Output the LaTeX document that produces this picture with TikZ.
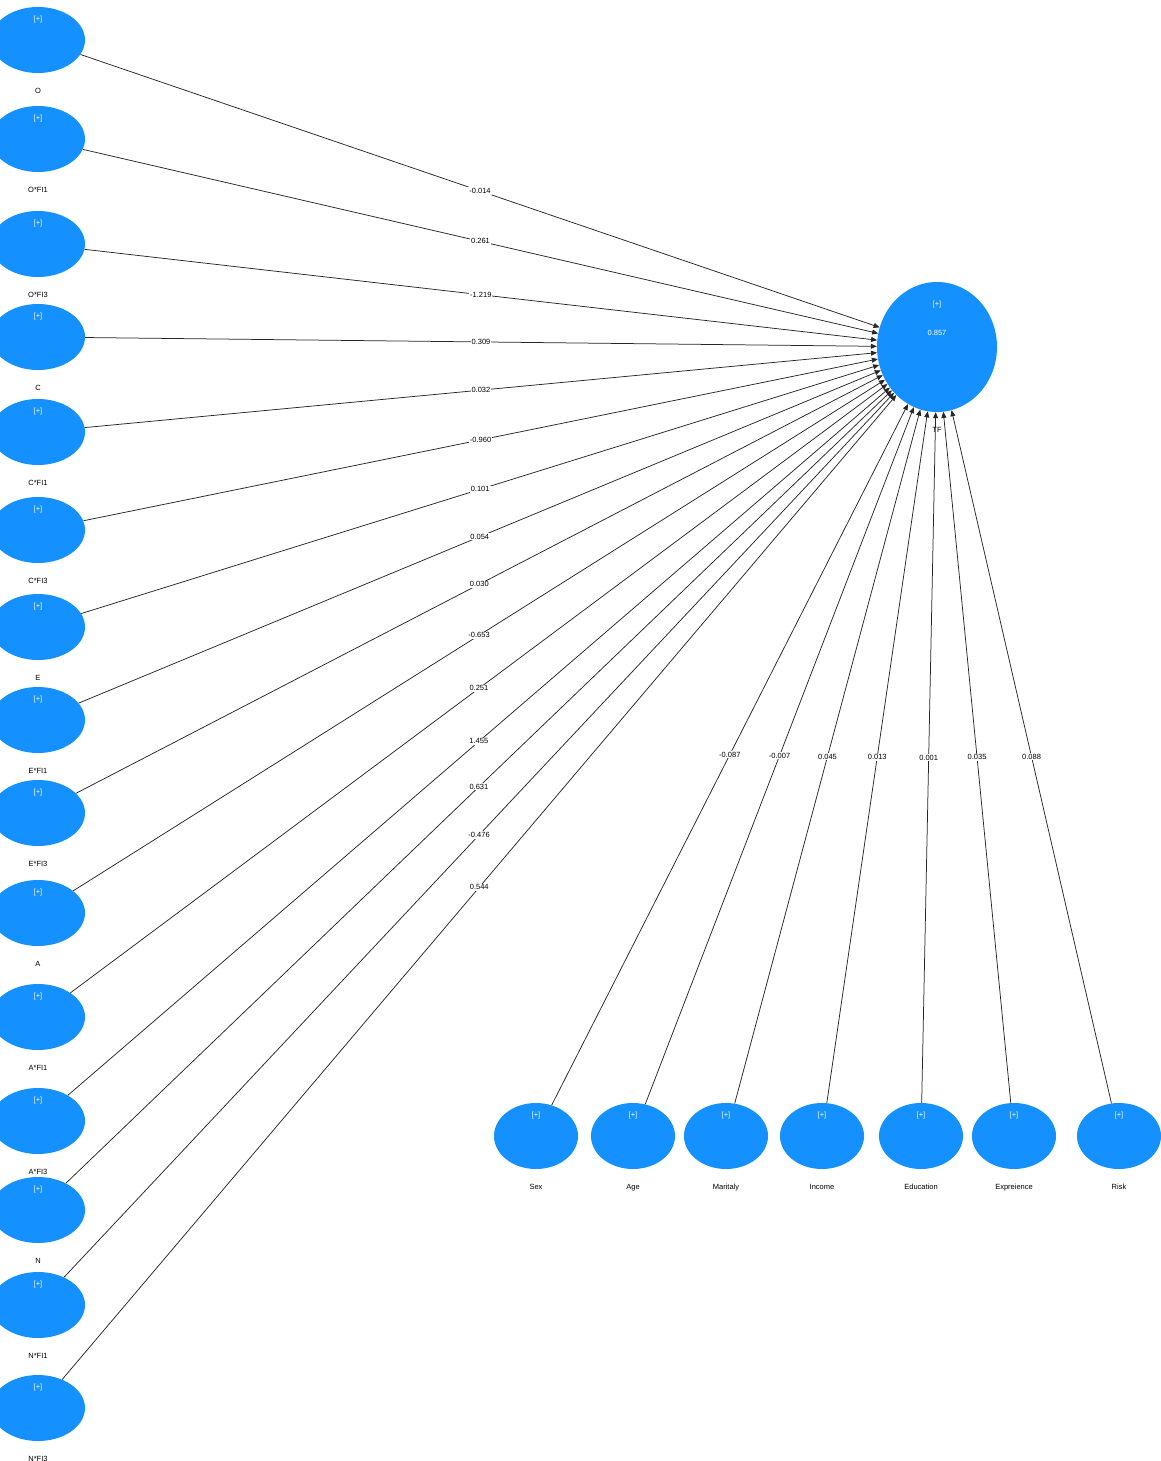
\documentclass[tikz,border=0pt]{standalone}
\usepackage{fontspec}
\setmainfont{Liberation Sans}
\usetikzlibrary{shapes.geometric, arrows.meta, positioning}
\definecolor{semblue}{RGB}{20,144,255}

\begin{document}
\begin{tikzpicture}[x=1pt, y=-1pt]
    \tikzstyle{latent} = [ellipse, fill=semblue, minimum width=94pt, minimum height=66pt, inner sep=0pt]
    \tikzstyle{ctrl} = [latent, minimum width=84pt]
    \tikzstyle{plus} = [text=white, font=\fontsize{7.5}{8}\selectfont, anchor=center, inner sep=0pt]
    \tikzstyle{nm} = [font=\fontsize{7.5}{8}\selectfont, inner sep=0pt, yshift=-15pt]
    \tikzstyle{conn} = [draw=black!85, line width=0.75pt, -{Triangle[length=6pt,width=5pt]}]
    \tikzstyle{coef} = [midway, fill=white, inner sep=1pt, font=\fontsize{7.5}{8}\selectfont]

    \useasboundingbox (0,0) rectangle (1161,1461);

    % target construct
    \node[latent, minimum width=120pt, minimum height=130pt,
          label={[plus, yshift=-23pt]north:{[+]}},
          label={[plus, yshift=14pt]center:{0.857}},
          label={[nm]below:TF}] (TF) at (937,347) {};

    % predictors
    \node[latent, label={[plus, yshift=-13pt]north:{[+]}}, label={[nm]below:O}] (O) at (38,40) {};
    \node[latent, label={[plus, yshift=-13pt]north:{[+]}}, label={[nm]below:O*FI1}] (OFI1) at (38,139) {};
    \node[latent, label={[plus, yshift=-13pt]north:{[+]}}, label={[nm]below:O*FI3}] (OFI3) at (38,244) {};
    \node[latent, label={[plus, yshift=-13pt]north:{[+]}}, label={[nm]below:C}] (C) at (38,337) {};
    \node[latent, label={[plus, yshift=-13pt]north:{[+]}}, label={[nm]below:C*FI1}] (CFI1) at (38,432) {};
    \node[latent, label={[plus, yshift=-13pt]north:{[+]}}, label={[nm]below:C*FI3}] (CFI3) at (38,530) {};
    \node[latent, label={[plus, yshift=-13pt]north:{[+]}}, label={[nm]below:E}] (E) at (38,627) {};
    \node[latent, label={[plus, yshift=-13pt]north:{[+]}}, label={[nm]below:E*FI1}] (EFI1) at (38,720) {};
    \node[latent, label={[plus, yshift=-13pt]north:{[+]}}, label={[nm]below:E*FI3}] (EFI3) at (38,813) {};
    \node[latent, label={[plus, yshift=-13pt]north:{[+]}}, label={[nm]below:A}] (A) at (38,913) {};
    \node[latent, label={[plus, yshift=-13pt]north:{[+]}}, label={[nm]below:A*FI1}] (AFI1) at (38,1017) {};
    \node[latent, label={[plus, yshift=-13pt]north:{[+]}}, label={[nm]below:A*FI3}] (AFI3) at (38,1121) {};
    \node[latent, label={[plus, yshift=-13pt]north:{[+]}}, label={[nm]below:N}] (N) at (38,1210) {};
    \node[latent, label={[plus, yshift=-13pt]north:{[+]}}, label={[nm]below:N*FI1}] (NFI1) at (38,1305) {};
    \node[latent, label={[plus, yshift=-13pt]north:{[+]}}, label={[nm]below:N*FI3}] (NFI3) at (38,1408) {};

    % controls
    \node[ctrl, label={[plus, yshift=-13pt]north:{[+]}}, label={[nm]below:Sex}] (Sex) at (536,1136) {};
    \node[ctrl, label={[plus, yshift=-13pt]north:{[+]}}, label={[nm]below:Age}] (Age) at (633,1136) {};
    \node[ctrl, label={[plus, yshift=-13pt]north:{[+]}}, label={[nm]below:Maritaly}] (Maritaly) at (726,1136) {};
    \node[ctrl, label={[plus, yshift=-13pt]north:{[+]}}, label={[nm]below:Income}] (Income) at (822,1136) {};
    \node[ctrl, label={[plus, yshift=-13pt]north:{[+]}}, label={[nm]below:Education}] (Education) at (921,1136) {};
    \node[ctrl, label={[plus, yshift=-13pt]north:{[+]}}, label={[nm]below:Expreience}] (Expreience) at (1014,1136) {};
    \node[ctrl, label={[plus, yshift=-13pt]north:{[+]}}, label={[nm]below:Risk}] (Risk) at (1119,1136) {};

    % paths
    \draw[conn] (O) -- node[coef] {-0.014} (TF);
    \draw[conn] (OFI1) -- node[coef] {0.261} (TF);
    \draw[conn] (OFI3) -- node[coef] {-1.219} (TF);
    \draw[conn] (C) -- node[coef] {0.309} (TF);
    \draw[conn] (CFI1) -- node[coef] {0.032} (TF);
    \draw[conn] (CFI3) -- node[coef] {-0.960} (TF);
    \draw[conn] (E) -- node[coef] {0.101} (TF);
    \draw[conn] (EFI1) -- node[coef] {0.054} (TF);
    \draw[conn] (EFI3) -- node[coef] {0.030} (TF);
    \draw[conn] (A) -- node[coef] {-0.653} (TF);
    \draw[conn] (AFI1) -- node[coef] {0.251} (TF);
    \draw[conn] (AFI3) -- node[coef] {1.455} (TF);
    \draw[conn] (N) -- node[coef] {0.631} (TF);
    \draw[conn] (NFI1) -- node[coef] {-0.476} (TF);
    \draw[conn] (NFI3) -- node[coef] {0.544} (TF);

    \draw[conn] (Sex) -- node[coef] {-0.087} (TF);
    \draw[conn] (Age) -- node[coef] {-0.007} (TF);
    \draw[conn] (Maritaly) -- node[coef] {0.045} (TF);
    \draw[conn] (Income) -- node[coef] {0.013} (TF);
    \draw[conn] (Education) -- node[coef] {0.001} (TF);
    \draw[conn] (Expreience) -- node[coef] {0.035} (TF);
    \draw[conn] (Risk) -- node[coef] {0.088} (TF);
\end{tikzpicture}
\end{document}
